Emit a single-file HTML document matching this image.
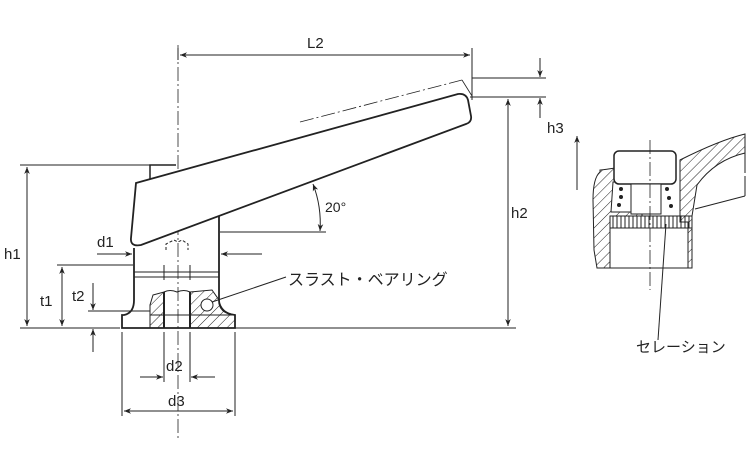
<!DOCTYPE html>
<html><head><meta charset="utf-8"><style>
html,body{margin:0;padding:0;background:#fff;}
svg{display:block;}
text{font-family:"Liberation Sans","Noto Sans CJK JP",sans-serif;fill:#222;}
</style></head><body>
<svg width="750" height="450" viewBox="0 0 750 450" xmlns="http://www.w3.org/2000/svg">
<defs>
<marker id="a" viewBox="0 0 10 10" refX="10" refY="5" markerWidth="9" markerHeight="7" orient="auto-start-reverse" markerUnits="userSpaceOnUse"><path d="M0,1 L10,5 L0,9 L3,5 z" fill="#222"/></marker>
<pattern id="h" width="7" height="7" patternUnits="userSpaceOnUse" patternTransform="rotate(45)"><line x1="0" y1="0" x2="0" y2="7" stroke="#222" stroke-width="1"/></pattern>
<pattern id="v" width="4" height="4" patternUnits="userSpaceOnUse"><line x1="1" y1="0" x2="1" y2="4" stroke="#222" stroke-width="1"/></pattern>
</defs>
<g stroke="#222" fill="none" stroke-width="1">
<line x1="178" y1="45" x2="178" y2="440" stroke-dasharray="14,3,2,3" stroke-width="0.8"/>
<line x1="178" y1="48" x2="178" y2="60"/>
<line x1="472" y1="48" x2="472" y2="100"/>
<line x1="180" y1="55" x2="470" y2="55" marker-start="url(#a)" marker-end="url(#a)"/>
<line x1="300" y1="122" x2="462" y2="80" stroke-dasharray="14,3,2,3" stroke-width="0.8"/>
<line x1="462" y1="80" x2="472" y2="96" stroke-width="0.8"/>
<line x1="472" y1="78" x2="546" y2="78"/>
<line x1="470" y1="97" x2="546" y2="97"/>
<line x1="540" y1="58" x2="540" y2="77" marker-end="url(#a)"/>
<line x1="540" y1="118" x2="540" y2="98" marker-end="url(#a)"/>
<line x1="508" y1="99" x2="508" y2="326" marker-start="url(#a)" marker-end="url(#a)"/>
<line x1="235" y1="328" x2="516" y2="328"/>
<line x1="20" y1="165" x2="150" y2="165"/>
<line x1="20" y1="328" x2="120" y2="328"/>
<line x1="27" y1="167" x2="27" y2="326" marker-start="url(#a)" marker-end="url(#a)"/>
<line x1="57" y1="265" x2="133" y2="265"/>
<line x1="62" y1="267" x2="62" y2="326" marker-start="url(#a)" marker-end="url(#a)"/>
<line x1="88" y1="311" x2="150" y2="311"/>
<line x1="93" y1="283" x2="93" y2="310" marker-end="url(#a)"/>
<line x1="93" y1="352" x2="93" y2="329" marker-end="url(#a)"/>
<line x1="97" y1="254" x2="132" y2="254" marker-end="url(#a)"/>
<line x1="262" y1="254" x2="221" y2="254" marker-end="url(#a)"/>
<line x1="164" y1="332" x2="164" y2="382"/>
<line x1="190" y1="332" x2="190" y2="382"/>
<line x1="140" y1="377" x2="163" y2="377" marker-end="url(#a)"/>
<line x1="215" y1="377" x2="191" y2="377" marker-end="url(#a)"/>
<line x1="122" y1="332" x2="122" y2="416"/>
<line x1="235" y1="332" x2="235" y2="416"/>
<line x1="124" y1="411" x2="233" y2="411" marker-start="url(#a)" marker-end="url(#a)"/>
<line x1="220" y1="232" x2="326" y2="232"/>
<path d="M313,184 A110,110 0 0 1 320,231" marker-start="url(#a)" marker-end="url(#a)"/>
<path d="M150,182 L150,165 L176,165" stroke-width="1.5"/>
<path d="M134,248 L134,300 Q134,313 124,315 L122,315 L122,328 L235,328 L235,315 Q219,313 219,300 L219,212" stroke-width="1.8"/>
<line x1="134" y1="272" x2="219" y2="272"/>
<line x1="134" y1="277" x2="219" y2="277"/>
<line x1="164" y1="265" x2="164" y2="280"/><line x1="190" y1="265" x2="190" y2="280"/>
<path d="M166,250 L166,244 L174,240 L178,242 L182,240 L188,244 L188,250" stroke-dasharray="3,2"/>
<path d="M153,295 L164,292 L164,328 L150,328 L150,305 Z" fill="url(#h)"/>
<path d="M190,292 L212,290 L219,300 Q221,313 235,315 L235,328 L190,328 Z" fill="url(#h)"/>
<circle cx="207" cy="305" r="6" fill="#fff"/>
<line x1="164" y1="292" x2="164" y2="328" stroke-width="2"/>
<line x1="190" y1="292" x2="190" y2="328" stroke-width="2"/>
<path d="M164,292 Q170,289 177,292 Q184,289 190,292"/>
<line x1="150" y1="315" x2="235" y2="315"/>
<path d="M136,183 L458,94 Q466,93 468,100 L471,116 Q472,122 466,124 L141,245 Q130,247 131,238 Z" fill="#fff" stroke-width="1.8"/>
<line x1="212" y1="302" x2="286" y2="277"/>
<!-- right detail -->
<line x1="577" y1="190" x2="577" y2="136" marker-end="url(#a)"/>
<path d="M600,170 Q602,170 615,168 L615,182 L613,182 L611,212 L642,212 L642,216 L610,216 L610,268 L597,268 L594,250 L593,200 Q593,178 600,172 Z" fill="url(#h)"/>
<path d="M680,160 Q720,140 745,134 L745,153 Q715,160 697,185 L692,216 L692,268 L688,268 L688,222 L680,222 Z" fill="url(#h)"/>
<line x1="695" y1="209" x2="745" y2="196"/>
<line x1="745" y1="153" x2="745" y2="196" stroke-dasharray="20,3"/>
<rect x="614" y="151" width="62" height="33" rx="5" fill="#fff" stroke-width="1.5"/>
<rect x="631" y="184" width="30" height="30" fill="#fff"/>
<rect x="610" y="216" width="82" height="12" fill="url(#v)"/>
<path d="M610,216 L692,216 M610,228 L692,228"/>
<g fill="#222" stroke="none"><circle cx="621" cy="189" r="2"/><circle cx="621" cy="197" r="2"/><circle cx="619" cy="205" r="2"/><circle cx="667" cy="189" r="2"/><circle cx="669" cy="198" r="2"/><circle cx="671" cy="206" r="2"/></g>
<line x1="650" y1="140" x2="650" y2="290" stroke-dasharray="14,3,2,3" stroke-width="0.8"/>
<line x1="610" y1="268" x2="692" y2="268"/>
<line x1="666" y1="224" x2="658" y2="340"/>
</g>
<g font-size="15">
<text x="307" y="48">L2</text>
<text x="547" y="133">h3</text>
<text x="511" y="218">h2</text>
<text x="4" y="259">h1</text>
<text x="40" y="306">t1</text>
<text x="72" y="301">t2</text>
<text x="97" y="247">d1</text>
<text x="166" y="371">d2</text>
<text x="168" y="406">d3</text>
<text x="325" y="212" font-size="14">20°</text>
<text x="288" y="285" font-size="16">スラスト・ベアリング</text>
<text x="636" y="352" font-size="15">セレーション</text>
</g>
</svg>
</body></html>
